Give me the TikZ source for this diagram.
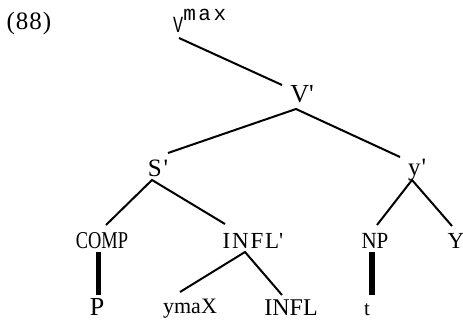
\documentclass[tikz,border=0pt]{standalone}
\usepackage{fontspec}
\setmainfont{Liberation Serif}
\newfontfamily\monof{Liberation Mono}
\newcommand{\pr}{\textquotesingle}
\begin{document}
\begin{tikzpicture}[x=1pt,y=-1pt,
  lab/.style={anchor=base,inner sep=0pt,font=\fontsize{23}{23}\selectfont},
  br/.style={line width=2pt},
  bar/.style={line width=5.5pt}]
\useasboundingbox (0,0) rectangle (463,323);
% labels
\node[lab,font=\fontsize{25}{25}\selectfont] (ex) at (29,30) {\addfontfeature{LetterSpace=4}(88)};
\node[lab,font=\monof\fontsize{21}{21}\selectfont,anchor=base west] (vmax) at (173,33) {\scalebox{0.8}[1.1]{V}\raisebox{12pt}{\addfontfeature{LetterSpace=12}max}};
\node[lab,font=\fontsize{26}{26}\selectfont] (vp) at (302,103) {V\pr};
\node[lab,font=\fontsize{25}{25}\selectfont] (sp) at (158,177) {S\hspace{2pt}\pr};
\node[lab,font=\fontsize{25}{25}\selectfont] (yp) at (417,176) {y\hspace{1pt}\pr};
\node[lab] (comp) at (102,248) {\scalebox{0.8}[1.05]{COMP}};
\node[lab] (inflp) at (253,248) {\addfontfeature{LetterSpace=8}INFL\pr};
\node[lab,font=\fontsize{21}{21}\selectfont] (np) at (375,248) {\scalebox{1}[1.1]{NP}};
\node[lab] (y) at (456,248) {Y};
\node[lab,font=\fontsize{26}{26}\selectfont] (p) at (97,315) {P};
\node[lab,font=\fontsize{22}{22}\selectfont] (ymax) at (190,313) {ymaX};
\node[lab,font=\fontsize{24}{24}\selectfont] (infl) at (291,315) {INFL};
\node[lab,font=\fontsize{21}{21}\selectfont] (t) at (367,315) {t};
% branch ends
\coordinate (vmax-b) at (179,38);
\coordinate (vp-t) at (282,85);
\coordinate (vp-b) at (296,109);
\coordinate (sp-t) at (168,153);
\coordinate (yp-t) at (400,157);
\coordinate (sp-b) at (152,180);
\coordinate (comp-t) at (106,225);
\coordinate (inflp-t) at (225,224);
\coordinate (yp-b) at (412,180);
\coordinate (np-t) at (377,225);
\coordinate (y-t) at (452,226);
\coordinate (inflp-b) at (245,252);
\coordinate (ymax-t) at (180,292);
\coordinate (infl-t) at (282,295);
\coordinate (comp-b) at (98.5,252);
\coordinate (p-t) at (98.5,295);
\coordinate (np-b) at (372,252);
\coordinate (t-t) at (372,295);
% branches
\draw[br] (vmax-b) -- (vp-t);
\draw[br] (sp-t) -- (vp-b) -- (yp-t);
\draw[br] (comp-t) -- (sp-b) -- (inflp-t);
\draw[br] (np-t) -- (yp-b) -- (y-t);
\draw[br] (ymax-t) -- (inflp-b) -- (infl-t);
\draw[bar] (comp-b) -- (p-t);
\draw[bar] (np-b) -- (t-t);
\end{tikzpicture}
\end{document}
